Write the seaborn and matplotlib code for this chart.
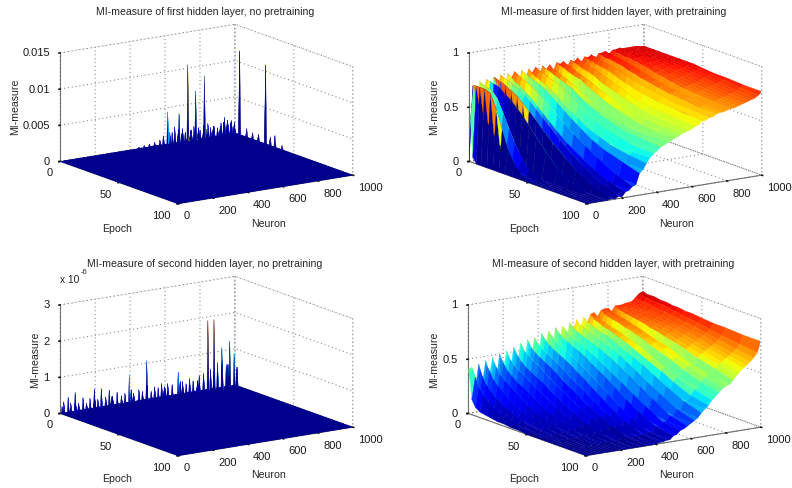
# MI-measure surfaces of the first and second hidden layer, with and without pretraining
import numpy as np
import matplotlib
matplotlib.use('Agg')
import matplotlib.pyplot as plt
import seaborn as sns

neuron_ticks = [0, 200, 400, 600, 800, 1000]
epoch_ticks = [0, 50, 100]

# spikes on the no-pretraining surfaces: neuron, epoch, height
first_spike_neuron = [613, 681, 732, 777, 823, 1000, 1000,
                      450, 480, 510, 540, 570, 590, 640, 655, 700, 715, 750, 765, 800, 845, 860, 880, 900, 920, 940, 960, 980,
                      1000, 1000, 1000, 1000, 1000, 1000,
                      620, 670, 690, 725, 740, 785, 815, 830, 870, 910, 930, 950, 970, 990]
first_spike_epoch = [0, 0, 0, 0, 0, 4, 26,
                     0, 0, 0, 0, 0, 0, 0, 0, 0, 0, 0, 0, 0, 0, 0, 0, 0, 0, 0, 0, 0,
                     10, 15, 20, 30, 34, 40,
                     1, 1, 1, 1, 1, 1, 1, 1, 1, 1, 1, 1, 1, 1]
first_spike_height = [.0044, .0039, .0105, .0067, .0086, .01156, .0109,
                      .0002, .0003, .0004, .0005, .0007, .0012, .0015, .0022, .0018, .0012, .0014, .0018, .0012, .0019, .0013, .0014, .0011, .0017, .0024, .0014, .0018,
                      .0012, .0009, .0010, .0012, .0016, .0006,
                      .0016, .0018, .0012, .0020, .0014, .0016, .0018, .0012, .0015, .0013, .0018, .0020, .0016, .0015]

second_spike_neuron = [22, 43, 84, 131, 196, 234, 280, 327, 393, 495, 542, 579, 617, 673, 738, 794, 845, 882, 925, 972, 996,
                       10, 60, 105, 150, 170, 215, 260, 300, 350, 370, 420, 450, 470, 520, 560, 600, 640, 700, 720, 760, 820, 860, 900, 950,
                       860, 900, 940, 985, 80, 190, 290, 400, 490, 590, 680, 780]
second_spike_epoch = [0] * 45 + [3, 4, 3, 4, 1, 1, 1, 1, 1, 1, 1, 1]
second_spike_height = [.30, .41, .51, .33, .52, .50, .42, .33, .74, 1.07, .31, .37, .34, .61, .38, .42, 1.90, 1.90, 1.09, 1.24, .86,
                       .18, .24, .20, .17, .28, .22, .25, .19, .21, .26, .23, .30, .24, .20, .27, .22, .29, .33, .25, .30, .46, .55, .70, .60,
                       .50, .80, .65, .55, .30, .32, .26, .35, .40, .28, .36, .30]

# surfaces with pretraining, percent of MI per neuron (rows) and epoch (columns)
pre_epochs = [0, 1, 3, 6, 10, 15, 20, 25, 30, 36, 42, 50, 60, 70, 85, 100]
pre_neurons = [0, 20, 40, 60, 80, 100, 120, 140, 160, 180, 200, 220, 240, 260, 280, 300, 320, 340, 360, 380, 400,
               420, 440, 460, 480, 500, 520, 540, 560, 580, 600, 620, 640, 660, 680, 700, 720, 740, 760, 780, 800,
               820, 840, 860, 880, 900, 920, 940, 960, 980, 1000]
first_pre = [
    [0, 39, 5, 0, 0, 0, 0, 0, 0, 0, 0, 0, 0, 0, 0, 0],
    [69, 70, 70, 70, 70, 68, 55, 38, 22, 10, 3, 0, 0, 0, 0, 0],
    [52, 50, 48, 44, 38, 30, 22, 14, 8, 4, 1, 0, 0, 0, 0, 0],
    [72, 71, 70, 69, 68, 62, 50, 38, 26, 15, 7, 2, 0, 0, 0, 0],
    [60, 56, 30, 12, 6, 3, 1, 0, 0, 0, 0, 0, 0, 0, 0, 0],
    [73, 72, 72, 71, 70, 66, 62, 57, 52, 44, 36, 26, 14, 6, 1, 0],
    [48, 40, 30, 18, 10, 6, 4, 2, 1, 1, 0, 0, 0, 0, 0, 0],
    [74, 74, 73, 72, 70, 67, 64, 59, 54, 48, 41, 33, 24, 15, 6, 1],
    [62, 60, 55, 50, 42, 36, 30, 24, 18, 12, 8, 5, 3, 2, 1, 0],
    [75, 74, 73, 72, 70, 68, 64, 60, 55, 49, 43, 35, 26, 18, 8, 2],
    [58, 55, 50, 46, 42, 38, 33, 27, 22, 17, 13, 9, 6, 4, 2, 1],
    [75, 74, 73, 70, 68, 64, 60, 55, 50, 44, 38, 31, 24, 17, 9, 5],
    [70, 68, 64, 60, 55, 50, 44, 38, 32, 27, 22, 17, 12, 9, 6, 6],
    [76, 75, 74, 72, 70, 67, 63, 59, 55, 50, 44, 38, 31, 24, 15, 9],
    [60, 56, 50, 46, 42, 38, 35, 32, 28, 25, 22, 19, 15, 13, 11, 10],
    [76, 75, 74, 73, 71, 69, 66, 62, 58, 53, 48, 42, 35, 30, 25, 20],
    [66, 64, 60, 55, 52, 48, 44, 40, 38, 34, 30, 28, 25, 24, 23, 23],
    [76, 75, 73, 71, 69, 67, 63, 60, 55, 51, 47, 41, 37, 33, 30, 28],
    [72, 70, 66, 62, 58, 53, 49, 45, 42, 38, 36, 34, 33, 32, 32, 33],
    [77, 76, 75, 74, 72, 70, 68, 64, 61, 57, 52, 47, 43, 40, 37, 36],
    [68, 65, 60, 55, 50, 46, 43, 40, 38, 37, 37, 37, 37, 37, 37, 38],
    [77, 76, 75, 74, 72, 70, 68, 66, 62, 58, 55, 51, 47, 44, 43, 41],
    [73, 72, 70, 67, 63, 59, 55, 52, 49, 46, 44, 43, 42, 42, 42, 42],
    [77, 76, 74, 73, 71, 69, 66, 63, 60, 57, 53, 50, 47, 45, 44, 44],
    [70, 67, 62, 58, 55, 52, 49, 47, 46, 45, 45, 45, 45, 45, 45, 45],
    [78, 77, 76, 75, 73, 71, 70, 67, 64, 61, 58, 55, 52, 49, 47, 47],
    [76, 75, 73, 71, 68, 65, 62, 60, 58, 56, 54, 52, 50, 48, 48, 48],
    [78, 77, 76, 75, 73, 71, 69, 67, 64, 62, 59, 56, 54, 52, 50, 50],
    [72, 69, 65, 62, 60, 58, 56, 54, 53, 52, 52, 51, 51, 51, 51, 51],
    [78, 78, 77, 76, 74, 73, 71, 68, 66, 64, 62, 59, 56, 54, 53, 52],
    [76, 74, 72, 70, 68, 66, 64, 62, 60, 58, 56, 55, 54, 53, 53, 53],
    [79, 78, 77, 76, 75, 74, 72, 70, 68, 66, 63, 60, 58, 57, 56, 55],
    [74, 72, 69, 66, 64, 62, 60, 59, 58, 57, 57, 56, 56, 56, 56, 56],
    [79, 79, 78, 77, 76, 75, 74, 72, 70, 68, 66, 64, 62, 61, 59, 59],
    [78, 76, 74, 72, 70, 68, 66, 64, 62, 61, 60, 60, 59, 59, 59, 59],
    [80, 79, 79, 78, 77, 76, 75, 74, 72, 70, 69, 67, 65, 63, 62, 61],
    [75, 73, 70, 68, 67, 66, 65, 64, 63, 62, 62, 61, 61, 61, 61, 61],
    [80, 80, 79, 78, 78, 77, 76, 74, 73, 71, 70, 68, 66, 65, 63, 63],
    [80, 79, 79, 78, 77, 76, 75, 74, 72, 71, 69, 68, 66, 65, 64, 64],
    [81, 80, 80, 79, 79, 78, 77, 76, 74, 73, 71, 69, 68, 66, 65, 64],
    [78, 77, 75, 74, 73, 72, 71, 70, 69, 68, 67, 66, 65, 65, 65, 65],
    [81, 81, 80, 80, 79, 79, 78, 77, 76, 74, 73, 71, 69, 68, 67, 66],
    [81, 80, 80, 79, 79, 78, 78, 77, 75, 74, 73, 72, 70, 69, 67, 66],
    [82, 81, 81, 80, 80, 79, 79, 78, 77, 76, 74, 73, 71, 70, 68, 67],
    [81, 81, 80, 80, 80, 79, 79, 78, 77, 76, 75, 74, 72, 71, 69, 68],
    [81, 81, 81, 80, 80, 80, 79, 79, 78, 77, 76, 75, 73, 72, 70, 69],
    [81, 81, 81, 81, 80, 80, 80, 79, 79, 78, 77, 76, 74, 73, 71, 70],
    [81, 81, 81, 81, 80, 80, 80, 80, 79, 79, 78, 77, 76, 74, 72, 71],
    [81, 81, 81, 81, 81, 80, 80, 80, 80, 79, 79, 78, 77, 75, 73, 72],
    [80, 80, 81, 81, 81, 81, 80, 80, 80, 80, 79, 79, 78, 77, 75, 74],
    [80, 80, 80, 80, 80, 80, 80, 80, 80, 80, 80, 79, 78, 78, 77, 77],
]
second_pre = [
    [40, 36, 14, 8, 5, 4, 3, 2, 2, 1, 1, 0, 0, 0, 0, 0],
    [42, 40, 34, 26, 20, 15, 11, 8, 6, 4, 3, 2, 1, 0, 0, 0],
    [20, 16, 12, 9, 7, 5, 4, 3, 3, 2, 2, 1, 1, 0, 0, 0],
    [44, 40, 34, 28, 23, 18, 14, 11, 8, 6, 4, 3, 1, 0, 0, 0],
    [24, 20, 15, 13, 11, 9, 7, 6, 5, 4, 3, 2, 1, 0, 0, 0],
    [46, 42, 38, 32, 27, 23, 18, 14, 11, 8, 6, 4, 2, 1, 0, 0],
    [30, 26, 20, 15, 12, 10, 8, 7, 5, 4, 3, 2, 1, 0, 0, 0],
    [48, 44, 40, 35, 31, 27, 23, 19, 15, 12, 9, 5, 3, 1, 0, 0],
    [26, 22, 18, 16, 13, 11, 9, 8, 7, 5, 4, 3, 2, 1, 0, 0],
    [50, 47, 43, 38, 34, 30, 27, 24, 20, 16, 12, 8, 4, 2, 0, 0],
    [34, 30, 25, 21, 17, 14, 12, 10, 8, 7, 5, 4, 2, 1, 0, 0],
    [52, 49, 45, 41, 38, 35, 31, 27, 24, 20, 16, 11, 6, 3, 1, 0],
    [30, 27, 23, 19, 16, 14, 12, 10, 9, 7, 6, 4, 2, 1, 0, 0],
    [54, 52, 48, 44, 40, 37, 34, 31, 27, 23, 19, 14, 8, 4, 1, 0],
    [36, 32, 28, 25, 21, 18, 16, 14, 12, 10, 8, 6, 3, 2, 0, 0],
    [57, 55, 51, 48, 45, 42, 38, 34, 30, 26, 22, 17, 11, 6, 2, 0],
    [34, 30, 25, 22, 19, 16, 14, 13, 11, 10, 8, 6, 3, 1, 0, 0],
    [59, 57, 53, 50, 47, 44, 41, 37, 33, 29, 25, 19, 13, 7, 2, 0],
    [42, 38, 33, 29, 25, 22, 19, 17, 15, 13, 11, 8, 5, 3, 1, 0],
    [60, 58, 55, 52, 49, 46, 43, 39, 35, 31, 27, 21, 14, 8, 2, 0],
    [38, 35, 31, 28, 25, 22, 20, 18, 16, 14, 12, 9, 6, 3, 1, 0],
    [63, 61, 58, 55, 52, 49, 46, 43, 39, 35, 30, 24, 16, 9, 3, 1],
    [48, 44, 40, 36, 33, 30, 27, 24, 22, 20, 17, 13, 9, 5, 2, 1],
    [64, 62, 60, 57, 54, 51, 48, 45, 41, 37, 32, 26, 18, 11, 4, 2],
    [44, 41, 37, 33, 30, 28, 26, 24, 22, 19, 17, 14, 10, 6, 3, 2],
    [66, 64, 62, 59, 57, 54, 52, 49, 45, 41, 37, 31, 23, 16, 8, 5],
    [52, 48, 44, 40, 36, 33, 31, 29, 27, 24, 21, 17, 13, 10, 7, 6],
    [66, 65, 63, 60, 58, 56, 53, 50, 47, 43, 39, 34, 27, 20, 11, 9],
    [48, 46, 43, 40, 37, 35, 33, 31, 29, 27, 25, 22, 18, 14, 11, 10],
    [68, 67, 65, 63, 61, 59, 57, 55, 52, 49, 45, 40, 33, 26, 16, 12],
    [60, 57, 53, 48, 44, 41, 38, 36, 33, 30, 27, 24, 21, 18, 15, 14],
    [70, 68, 66, 65, 63, 61, 59, 57, 55, 52, 48, 43, 36, 30, 21, 16],
    [58, 56, 52, 48, 45, 42, 40, 38, 36, 33, 31, 28, 25, 22, 19, 18],
    [71, 70, 68, 67, 65, 63, 62, 60, 57, 54, 51, 47, 41, 35, 27, 22],
    [65, 62, 58, 54, 51, 48, 46, 44, 41, 38, 36, 33, 30, 28, 26, 25],
    [73, 71, 69, 68, 66, 65, 63, 61, 59, 56, 53, 49, 44, 38, 31, 28],
    [74, 72, 71, 69, 68, 66, 65, 63, 61, 59, 56, 52, 47, 42, 36, 32],
    [70, 67, 64, 61, 58, 56, 54, 52, 50, 48, 46, 44, 42, 40, 37, 35],
    [75, 74, 72, 71, 70, 69, 67, 66, 64, 62, 59, 56, 52, 47, 42, 38],
    [76, 74, 73, 72, 71, 70, 68, 67, 65, 63, 61, 58, 54, 50, 45, 41],
    [76, 75, 74, 73, 72, 71, 69, 68, 66, 64, 62, 60, 56, 52, 48, 43],
    [72, 70, 67, 65, 63, 61, 59, 58, 56, 54, 52, 50, 48, 46, 45, 44],
    [77, 76, 75, 74, 73, 72, 71, 70, 68, 67, 65, 63, 60, 56, 52, 47],
    [77, 76, 75, 75, 74, 73, 72, 71, 70, 68, 67, 65, 62, 59, 55, 51],
    [77, 77, 76, 75, 75, 74, 73, 72, 71, 70, 68, 66, 64, 61, 57, 54],
    [78, 77, 77, 76, 75, 75, 74, 73, 72, 71, 70, 68, 66, 63, 60, 57],
    [78, 78, 77, 77, 76, 75, 75, 74, 73, 72, 71, 70, 68, 65, 62, 59],
    [79, 78, 78, 77, 77, 76, 76, 75, 74, 73, 72, 71, 70, 67, 64, 62],
    [82, 81, 81, 80, 80, 79, 78, 78, 77, 76, 75, 74, 72, 70, 67, 65],
    [85, 84, 84, 83, 83, 82, 82, 81, 80, 79, 78, 77, 75, 73, 71, 69],
    [86, 86, 85, 85, 85, 84, 84, 83, 83, 82, 82, 81, 80, 80, 79, 79],
]

sns.set_theme(style='white')
plt.rcParams['font.family'] = ['Liberation Sans', 'DejaVu Sans']
jet = plt.get_cmap('jet')

W, H = 792, 489
fig = plt.figure(figsize=(W / 100, H / 100), dpi=100)


def spike_grid(neuron, epoch, height):
    xs = np.arange(0, 1001, 5)
    ys = np.arange(0, 101, 1)
    zs = np.zeros((len(xs), len(ys)))
    for n, e, h in zip(neuron, epoch, height):
        zs[round(n / 5), e] = h
    return xs, ys, zs


def panel(cx, cy, xs, ys, zs, ztop, ctop, zticks, zlabels):
    size = 300
    left = cx - 0.5135 * size
    bottom = H - cy - 0.5135 * size
    ax = fig.add_axes([left / W, bottom / H, size / W, size / H], projection='3d', proj_type='ortho')
    ax.patch.set_alpha(0)
    ax.view_init(elev=14, azim=-124)
    ax.set_box_aspect((211, 211, 112), zoom=1.03)
    xg, yg = np.meshgrid(xs, ys, indexing='ij')
    # each cell takes the colour of its first corner
    colors = jet((zs + 0.015 * ctop) / (1.015 * ctop))
    ax.plot_surface(xg, yg, zs, facecolors=colors, rstride=1, cstride=1, shade=False, linewidth=0.25)
    ax.set_xlim(0, 1000)
    ax.set_ylim(100, 0)
    ax.set_zlim(0, ztop)
    ax.set_xticks(neuron_ticks)
    ax.set_xticklabels([str(t) for t in neuron_ticks], ha='left')
    ax.set_yticks(epoch_ticks)
    ax.set_yticklabels([str(t) for t in epoch_ticks], ha='right')
    ax.set_zticks(zticks)
    ax.set_zticklabels(zlabels, ha='right', va='center')
    ax.tick_params(labelsize=8, colors='#1a1a1a')
    ax.tick_params(axis='x', pad=-3)
    ax.tick_params(axis='y', pad=-3)
    ax.tick_params(axis='z', pad=-4)
    for axis in (ax.xaxis, ax.yaxis, ax.zaxis):
        axis.pane.set_facecolor((1, 1, 1, 0))
        axis.pane.set_edgecolor('#707070')
        axis.pane.set_linestyle((0, (1, 3)))
        axis.pane.set_linewidth(0.7)
        axis.line.set_color('#707070')
        axis.line.set_linewidth(0.8)
        axis._axinfo['grid'].update(color='#707070', linestyle=(0, (1, 3)), linewidth=0.7)
        axis._axinfo['tick'].update(inward_factor=0.1, outward_factor=0)
    return ax


x1, y1, z1 = spike_grid(first_spike_neuron, first_spike_epoch, first_spike_height)
x3, y3, z3 = spike_grid(second_spike_neuron, second_spike_epoch, second_spike_height)

panel(206.5, 115, x1, y1, z1, 0.015, 0.015, [0, .005, .01, .015], ['0', '0.005', '0.01', '0.015'])
panel(615.5, 115, pre_neurons, pre_epochs, np.array(first_pre) / 100, 1, 0.88, [0, .5, 1], ['0', '0.5', '1'])
panel(206.5, 367, x3, y3, z3, 3, 2.6, [0, 1, 2, 3], ['0', '1', '2', '3'])
panel(614.5, 367, pre_neurons, pre_epochs, np.array(second_pre) / 100, 1, 0.9, [0, .5, 1], ['0', '0.5', '1'])

for x, y, s in [(205, 12, 'MI-measure of first hidden layer, no pretraining'),
                (613.5, 12, 'MI-measure of first hidden layer, with pretraining'),
                (205, 264, 'MI-measure of second hidden layer, no pretraining'),
                (613, 264, 'MI-measure of second hidden layer, with pretraining')]:
    fig.text(x / W, 1 - y / H, s, ha='center', va='center', fontsize=7.6)

# axis labels: epoch, neuron, MI-measure per panel
for x, y, s, rot in [(117, 229, 'Epoch', 0), (268, 224, 'Neuron', 0), (15, 107, 'MI-measure', 90),
                     (524, 229, 'Epoch', 0), (676, 224, 'Neuron', 0), (434, 107, 'MI-measure', 90),
                     (117, 479, 'Epoch', 0), (268, 475, 'Neuron', 0), (35, 360, 'MI-measure', 90),
                     (524, 479, 'Epoch', 0), (676, 475, 'Neuron', 0), (434, 360, 'MI-measure', 90)]:
    fig.text(x / W, 1 - y / H, s, ha='center', va='center', fontsize=7.6, rotation=rot)

fig.text(60 / W, 1 - 280 / H, 'x 10', fontsize=7.4, va='center')
fig.text(81 / W, 1 - 272 / H, '-6', fontsize=5.5, va='center')

fig.savefig('out.png', dpi=100)
